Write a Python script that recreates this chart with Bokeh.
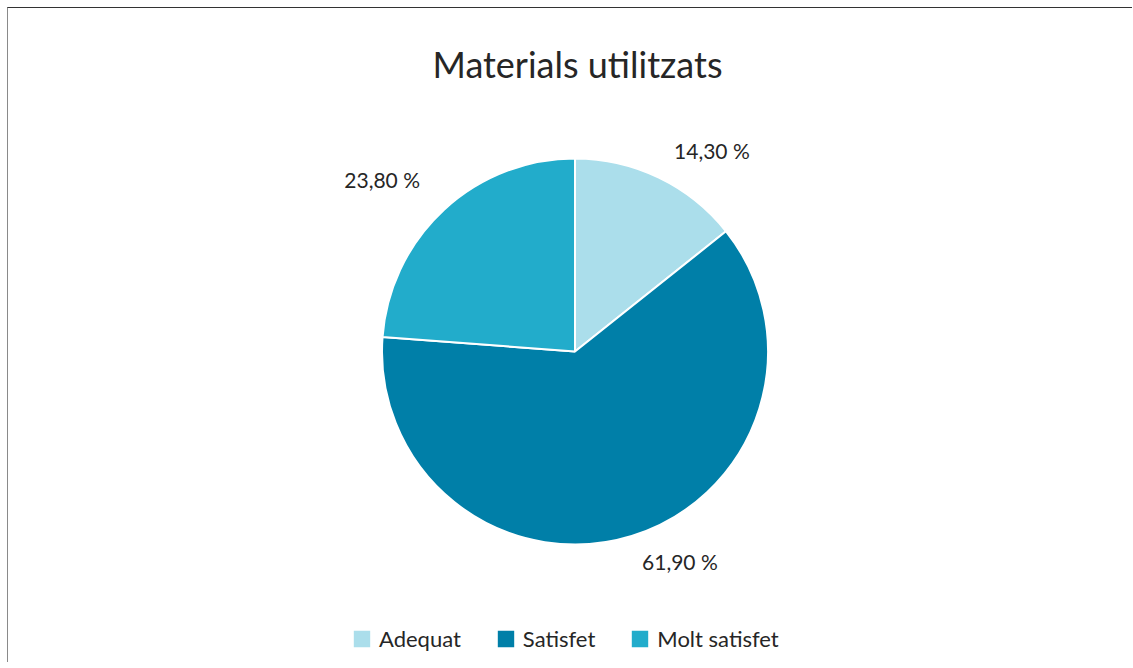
import math
from bokeh.plotting import figure
from bokeh.models import Range1d, Legend, LegendItem, Label, ColumnDataSource
from bokeh.core.properties import value
from bokeh.embed import file_html
from bokeh.resources import INLINE

title_text = "Materials utilitzats"
categories = ["Adequat", "Satisfet", "Molt satisfet"]
values = [14.3, 61.9, 23.8]
colors = ["#ABDEEB", "#007FA8", "#22ACCB"]

FONT = "Lato"
TEXT_COLOR = "#262626"
W, H = 1125, 655
CX, CY = 566.5, 343  # pie centre in pixels from the canvas' left/top
R = 193

p = figure(width=W, height=H, output_backend="svg", toolbar_location=None,
           x_axis_type=None, y_axis_type=None, min_border=0,
           x_range=Range1d(-CX, W - CX), y_range=Range1d(-(H - CY), CY))
p.grid.visible = False
p.outline_line_color = None
p.background_fill_color = "white"
p.border_fill_color = "white"
p.styles = {"margin-left": "7px", "margin-top": "7px",
            "border-top": "1px solid #333333", "border-left": "1px solid #8a8a8a"}

total = sum(values)
starts, ends, mids = [], [], []
cum = 0.0
for v in values:
    a0 = cum / total * 2 * math.pi
    cum += v
    a1 = cum / total * 2 * math.pi
    starts.append(math.pi / 2 - a0)
    ends.append(math.pi / 2 - a1)
    mids.append((a0 + a1) / 2)

src = ColumnDataSource(dict(start=starts, end=ends, color=colors, name=categories))
wr = p.wedge(x=0, y=0, radius=R, radius_units="screen", start_angle="start", end_angle="end",
             direction="clock", fill_color="color", line_color="white", line_width=2, source=src)

# data labels placed outside the end of each slice, along its middle angle
LR_X = 228
LR_Y = 174
V_GAP = 44
lx, ly, la, lt = [], [], [], []
for v, m in zip(values, mids):
    dx = LR_X * math.sin(m)
    dy = LR_Y * math.cos(m)
    lx.append(dx)
    ly.append(dy + V_GAP if dy >= 0 else dy - V_GAP)
    la.append("left" if dx >= 0 else "right")
    lt.append(f"{v:.2f}".replace(".", ",") + " %")
lsrc = ColumnDataSource(dict(x=lx, y=ly, align=la, text=lt))
p.text(x="x", y="y", text="text", text_align="align", text_baseline="middle",
       text_font=value(FONT), text_font_size="21px", text_color=TEXT_COLOR, source=lsrc)

# title
p.add_layout(Label(x=2.5, y=CY - 55, text=title_text, text_align="center",
                   text_baseline="middle", text_font=FONT, text_font_size="36px",
                   text_color=TEXT_COLOR))

legend = Legend(items=[LegendItem(label=c, renderers=[wr], index=i) for i, c in enumerate(categories)],
                orientation="horizontal", location=(342, 11), padding=0, margin=0,
                spacing=33, label_standoff=6, glyph_width=23, glyph_height=23,
                label_text_font=FONT, label_text_font_size="22px", label_text_color=TEXT_COLOR,
                background_fill_alpha=0, border_line_color=None)
p.add_layout(legend)

open("out.html", "w").write(file_html(p, INLINE))
